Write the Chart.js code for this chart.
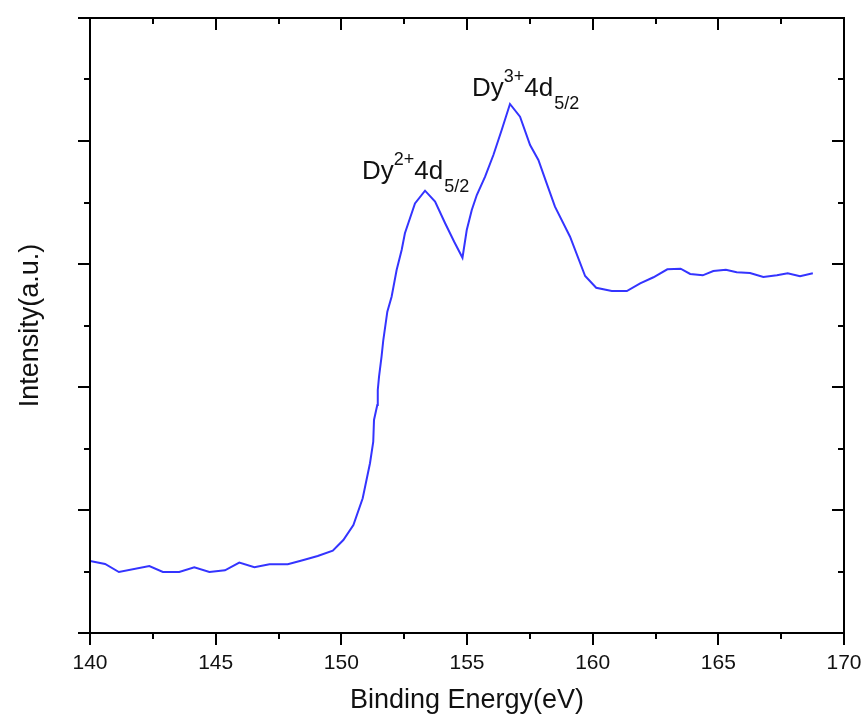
<!DOCTYPE html>
<html>
<head>
<meta charset="utf-8">
<script src="https://cdn.jsdelivr.net/npm/chart.js@4/dist/chart.umd.min.js"></script>
<style>
  html, body { margin: 0; padding: 0; background: #fff; }
  canvas { display: block; }
</style>
</head>
<body>
<canvas id="xps" width="867" height="722"></canvas>
<script>
// binding energy (eV) and intensity (a.u., arbitrary scale 0..5)
const energy = [
  140.0, 140.6, 141.15, 142.36, 142.9, 143.55, 144.15, 144.75, 145.37, 145.94,
  146.54, 147.14, 147.87, 148.46, 149.06, 149.66, 150.08, 150.48, 150.85, 151.14,
  151.27, 151.3, 151.43, 151.45, 151.5, 151.6, 151.67, 151.83, 152.0, 152.2,
  152.4, 152.53, 152.93, 153.33, 153.73, 154.13, 154.49, 154.82, 154.99, 155.19,
  155.39, 155.72, 156.05, 156.38, 156.71, 157.11, 157.51, 157.84, 158.17, 158.5,
  159.1, 159.7, 160.14, 160.76, 161.36, 161.89, 162.42, 162.97, 163.5, 163.88,
  164.38, 164.8, 165.3, 165.73, 166.26, 166.79, 167.33, 167.76, 168.25, 168.76
];
const intensity = [
  0.585, 0.561, 0.496, 0.545, 0.496, 0.496, 0.534, 0.496, 0.51, 0.572,
  0.534, 0.559, 0.559, 0.591, 0.626, 0.669, 0.756, 0.878, 1.095, 1.38,
  1.555, 1.732, 1.854, 1.976, 2.084, 2.246, 2.382, 2.612, 2.734, 2.951,
  3.114, 3.25, 3.493, 3.596, 3.507, 3.331, 3.181, 3.051, 3.276, 3.439,
  3.561, 3.71, 3.886, 4.089, 4.301, 4.198, 3.967, 3.846, 3.656, 3.466,
  3.222, 2.902, 2.807, 2.78, 2.78, 2.843, 2.892, 2.957, 2.962, 2.919,
  2.908, 2.943, 2.954, 2.933, 2.927, 2.894, 2.908, 2.924, 2.9, 2.924
];

// peak labels: [ion charge, x, y] in data units (left edge / baseline of "Dy")
const peakLabels = [
  ["2+", 150.82, 3.69],
  ["3+", 155.2, 4.366]
];

const FONT = "'Liberation Sans', Arial, sans-serif";

// frame box + tick marks, Origin style (out on bottom/left, mirrored in on top/right)
const framePlugin = {
  id: "frame",
  afterDraw(chart) {
    const { ctx, chartArea: a, scales } = chart;
    ctx.save();
    ctx.strokeStyle = "#000";
    ctx.lineWidth = 2;
    ctx.strokeRect(a.left, a.top, a.right - a.left, a.bottom - a.top);

    ctx.beginPath();
    for (let v = 140; v <= 170; v += 2.5) {
      const px = Math.round(scales.x.getPixelForValue(v));
      const len = v % 5 === 0 ? 12 : 6;
      ctx.moveTo(px, a.bottom); ctx.lineTo(px, a.bottom + len);
      ctx.moveTo(px, a.top); ctx.lineTo(px, a.top + len);
    }
    for (let v = 0; v <= 5; v += 0.5) {
      const py = Math.round(scales.y.getPixelForValue(v));
      const len = v % 1 === 0 ? 12 : 6;
      ctx.moveTo(a.left, py); ctx.lineTo(a.left - len, py);
      ctx.moveTo(a.right, py); ctx.lineTo(a.right - len, py);
    }
    ctx.stroke();

    // "Dy^n+ 4d_5/2" labels
    ctx.fillStyle = "#111";
    ctx.textBaseline = "alphabetic";
    ctx.textAlign = "left";
    peakLabels.forEach(([charge, ex, iy]) => {
      let x = scales.x.getPixelForValue(ex);
      const y = scales.y.getPixelForValue(iy);
      ctx.font = "26px " + FONT;
      ctx.fillText("Dy", x, y);
      x += ctx.measureText("Dy").width;
      ctx.font = "18px " + FONT;
      ctx.fillText(charge, x, y - 14);
      x += ctx.measureText(charge).width;
      ctx.font = "26px " + FONT;
      ctx.fillText("4d", x, y);
      x += ctx.measureText("4d").width + 1;
      ctx.font = "18px " + FONT;
      ctx.fillText("5/2", x, y + 13);
    });
    ctx.restore();
  }
};

new Chart(document.getElementById("xps"), {
  type: "line",
  data: {
    datasets: [{
      data: energy.map((e, i) => ({ x: e, y: intensity[i] })),
      borderColor: "#3434ff",
      borderWidth: 2,
      pointRadius: 0,
      tension: 0,
      fill: false
    }]
  },
  options: {
    responsive: false,
    animation: false,
    layout: { padding: { left: 0, right: 23, top: 18, bottom: 0 } },
    plugins: { legend: { display: false }, tooltip: { enabled: false } },
    scales: {
      x: {
        type: "linear",
        min: 140,
        max: 170,
        afterFit: s => { s.height = 89; s.paddingLeft = 0; s.paddingRight = 0; },
        grid: { display: false, drawTicks: false },
        border: { display: false },
        ticks: {
          stepSize: 5,
          padding: 18,
          color: "#111",
          font: { family: FONT, size: 21 },
          maxRotation: 0
        },
        title: {
          display: true,
          text: "Binding Energy(eV)",
          color: "#111",
          font: { family: FONT, size: 27 },
          padding: { top: 0, bottom: 5 }
        }
      },
      y: {
        min: 0,
        max: 5,
        afterFit: s => { s.width = 90; },
        grid: { display: false, drawTicks: false },
        border: { display: false },
        ticks: { display: false },
        title: {
          display: true,
          text: "Intensity(a.u.)",
          color: "#111",
          font: { family: FONT, size: 27 },
          padding: { top: 14, bottom: 0 }
        }
      }
    }
  },
  plugins: [framePlugin]
});
</script>
</body>
</html>
